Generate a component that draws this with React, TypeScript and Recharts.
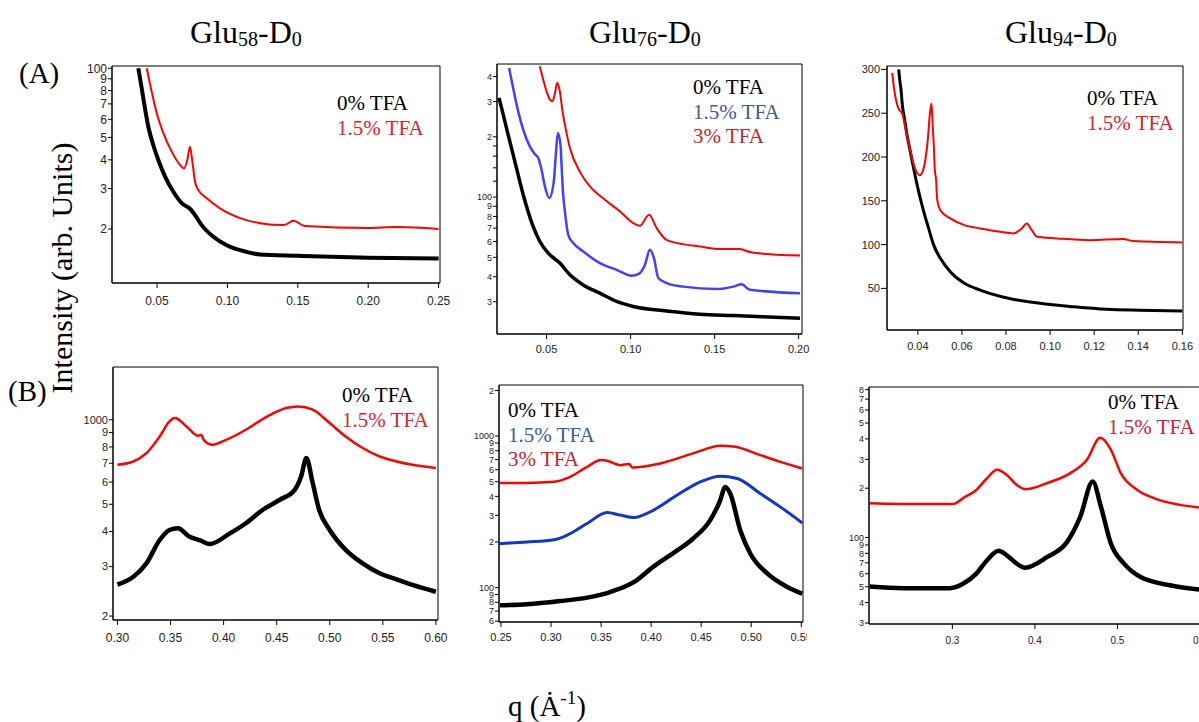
import React from "react";
import { LineChart, Line, XAxis, YAxis, ReferenceArea } from "recharts";

// (A) Glu58-D0
const A1_Q_0 = [0.0367, 0.0391, 0.0414, 0.0438, 0.0473, 0.0509, 0.0557, 0.0615, 0.0675, 0.0734, 0.077, 0.0817, 0.09, 0.0995, 0.1137, 0.1231, 0.15, 0.2, 0.25];
const A1_I_0 = [100, 81.9, 67, 55.7, 46.4, 39.9, 33.8, 29.1, 25.9, 24.5, 23.0, 20.8, 18.5, 17, 15.9, 15.5, 15.3, 15.0, 14.9];
const A1_Q_15 = [0.0427, 0.0462, 0.0498, 0.0545, 0.0604, 0.0663, 0.0692, 0.0715, 0.0734, 0.0751, 0.077, 0.0793, 0.0853, 0.0947, 0.109, 0.1231, 0.14, 0.147, 0.155, 0.2, 0.22, 0.25];
const A1_I_15 = [100, 79.1, 63.7, 52.2, 43.4, 38, 36.7, 39.9, 45.6, 39.3, 32.1, 29.6, 27.2, 24.6, 22.3, 21.2, 20.8, 21.7, 20.6, 20.2, 20.4, 20.0];

// (A) Glu76-D0
const A2_Q_0 = [0.0217, 0.0242, 0.0271, 0.0301, 0.0331, 0.0361, 0.039, 0.042, 0.046, 0.051, 0.0579, 0.0639, 0.0718, 0.0817, 0.0917, 0.1016, 0.1214, 0.1413, 0.1611, 0.2008];
const A2_I_0 = [313, 258, 205, 163, 129, 102.7, 84.7, 71.3, 60, 52.5, 46.8, 40.9, 36.4, 33.1, 30.1, 28.4, 27, 26, 25.6, 24.8];
const A2_Q_15 = [0.0277, 0.0301, 0.0331, 0.0361, 0.04, 0.043, 0.045, 0.047, 0.049, 0.0516, 0.0543, 0.0555, 0.0567, 0.0583, 0.0591, 0.0599, 0.0609, 0.0629, 0.0659, 0.0718, 0.0817, 0.0917, 0.1006, 0.1046, 0.1085, 0.1115, 0.1139, 0.1165, 0.1214, 0.1313, 0.1512, 0.1611, 0.166, 0.171, 0.2008];
const A2_I_15 = [441, 351, 268, 217, 179, 164, 157, 137, 113, 98.9, 119.7, 163, 209, 182, 134, 102.7, 84.8, 64.8, 58.9, 53.5, 46.8, 43.3, 40.5, 41.2, 45.8, 54.5, 49.5, 39.4, 37.2, 35.7, 34.7, 35.7, 36.7, 34.4, 33.1];
const A2_Q_3 = [0.046, 0.048, 0.05, 0.052, 0.0536, 0.055, 0.0563, 0.0579, 0.0595, 0.0609, 0.0639, 0.0698, 0.0758, 0.0847, 0.0936, 0.1016, 0.1055, 0.111, 0.1155, 0.1214, 0.1313, 0.1413, 0.1512, 0.165, 0.171, 0.181, 0.2008];
const A2_I_3 = [450, 386, 337, 307, 301, 331, 372, 337, 268, 230, 176, 134, 113, 97, 84.8, 74.1, 71.8, 81.6, 70, 61.1, 58.2, 56.6, 55.1, 55, 53.1, 51.9, 51];

// (A) Glu94-D0
const A3_Q_0 = [0.0313, 0.0318, 0.0324, 0.0329, 0.0339, 0.0351, 0.0366, 0.0381, 0.0404, 0.0427, 0.0449, 0.0472, 0.0502, 0.0547, 0.0611, 0.0683, 0.0811, 0.0954, 0.1105, 0.1256, 0.1406, 0.16];
const A3_I_0 = [300, 287.6, 276, 261, 243.9, 224.9, 205.8, 186.9, 160.2, 137.4, 118.5, 99.4, 84.3, 69, 55.8, 48.1, 38.7, 33, 29.1, 26.1, 25, 24.2];
const A3_Q_15 = [0.0284, 0.0291, 0.0303, 0.0313, 0.0329, 0.0344, 0.0359, 0.0374, 0.0394, 0.0409, 0.0424, 0.0435, 0.0445, 0.0454, 0.0462, 0.0468, 0.0472, 0.0477, 0.0483, 0.0487, 0.0502, 0.0547, 0.0611, 0.0683, 0.0774, 0.0834, 0.0872, 0.0894, 0.0917, 0.094, 0.103, 0.1181, 0.1332, 0.1377, 0.16];
const A3_I_15 = [296, 280, 262.8, 255, 249.6, 232.5, 215.4, 198.3, 183, 179.2, 185, 198.3, 219.2, 247.7, 261, 232.5, 215.4, 185, 173.5, 152.7, 139.3, 129.9, 122.2, 118.5, 114.6, 112.8, 118.5, 124.2, 116.5, 108.9, 107.1, 105.1, 106.3, 104, 102.5];

// (B) Glu58-D0
const B1_Q_0 = [0.3, 0.315, 0.3273, 0.3398, 0.349, 0.357, 0.368, 0.378, 0.387, 0.406, 0.421, 0.437, 0.453, 0.467, 0.473, 0.478, 0.484, 0.49, 0.5, 0.515, 0.531, 0.547, 0.563, 0.578, 0.6];
const B1_I_0 = [259, 276, 308, 373, 405, 411, 383, 372, 361, 394, 428, 478, 519, 563, 628, 730, 594, 478, 405, 344, 308, 284, 270, 258, 244];
const B1_Q_15 = [0.3, 0.315, 0.3273, 0.3398, 0.349, 0.354, 0.365, 0.376, 0.379, 0.381, 0.3898, 0.399, 0.421, 0.44, 0.459, 0.47, 0.484, 0.5, 0.515, 0.531, 0.547, 0.563, 0.578, 0.6];
const B1_I_15 = [691, 710, 760, 872, 986, 1014, 947, 877, 885, 850, 814, 837, 921, 1022, 1101, 1115, 1086, 973, 872, 793, 740, 710, 691, 673];

// (B) Glu76-D0
const B2_Q_0 = [0.249, 0.276, 0.309, 0.336, 0.359, 0.383, 0.402, 0.426, 0.442, 0.459, 0.469, 0.474, 0.479, 0.489, 0.499, 0.516, 0.536, 0.551];
const B2_I_0 = [76.4, 77.6, 81.5, 85.9, 93.5, 109, 137, 176, 211, 279, 377, 462, 418, 239, 168, 124, 101, 91.2];
const B2_Q_15 = [0.249, 0.276, 0.303, 0.316, 0.336, 0.356, 0.369, 0.383, 0.399, 0.426, 0.449, 0.469, 0.486, 0.509, 0.529, 0.551];
const B2_I_15 = [195, 200, 207, 222, 265, 313, 301, 290, 316, 408, 499, 544, 525, 418, 341, 267];
const B2_Q_3 = [0.249, 0.276, 0.303, 0.319, 0.336, 0.35, 0.356, 0.369, 0.378, 0.381, 0.384, 0.409, 0.442, 0.469, 0.482, 0.509, 0.529, 0.551];
const B2_I_3 = [491, 491, 499, 538, 627, 694, 687, 643, 655, 620, 621, 660, 769, 863, 855, 749, 676, 611];

// (B) Glu94-D0
const B3_Q_0 = [0.2, 0.24, 0.297, 0.313, 0.329, 0.342, 0.356, 0.366, 0.378, 0.388, 0.415, 0.439, 0.455, 0.47, 0.48, 0.492, 0.508, 0.528, 0.565, 0.6];
const B3_I_0 = [50.2, 49, 49, 52.1, 60.1, 72.6, 82.8, 77.8, 69.2, 65.4, 76, 94, 134, 220, 154, 91.9, 69.2, 57.3, 50.9, 48];
const B3_Q_15 = [0.2, 0.261, 0.301, 0.313, 0.329, 0.342, 0.354, 0.366, 0.378, 0.388, 0.415, 0.443, 0.463, 0.479, 0.492, 0.504, 0.524, 0.544, 0.565, 0.6];
const B3_I_15 = [162, 160, 160, 174, 195, 230, 259, 241, 209, 197, 215, 247, 298, 406, 344, 247, 195, 174, 162, 152];

// ticks
const A1_XT = [0.05, 0.1, 0.15, 0.2, 0.25];
const A1_YT = [20, 30, 40, 50, 60, 70, 80, 90, 100];
const A2_XT = [0.05, 0.1, 0.15, 0.2];
const A2_YT = [30, 40, 50, 60, 70, 80, 90, 100, 120, 140, 160, 180, 200, 300, 400];
const A3_XT = [0.04, 0.06, 0.08, 0.1, 0.12, 0.14, 0.16];
const A3_YT = [50, 100, 150, 200, 250, 300];
const B1_XT = [0.3, 0.35, 0.4, 0.45, 0.5, 0.55, 0.6];
const B1_YT = [200, 300, 400, 500, 600, 700, 800, 900, 1000];
const B2_XT = [0.25, 0.3, 0.35, 0.4, 0.45, 0.5, 0.55];
const B2_YT = [60, 70, 80, 90, 100, 200, 300, 400, 500, 600, 700, 800, 900, 1000, 2000];
const B3_XT = [0.3, 0.4, 0.5, 0.6];
const B3_YT = [30, 40, 50, 60, 70, 80, 90, 100, 200, 300, 400, 500, 600, 700, 800];
const MINOR = [120, 140, 160, 180];

const RED = "#ff0000";
const SERIF = "Liberation Serif, Times New Roman, serif";
const SANS = "Liberation Sans, Arial, sans-serif";

const zip = (q: number[], v: number[]) => q.map((x, i) => ({ q: x, v: v[i] }));

// IGOR-style log labels: full number at decades, leading digit elsewhere
const logLabel = (v: number) => {
  if (MINOR.includes(v)) return "";
  const e = Math.floor(Math.log10(v) + 1e-9);
  const m = Math.round(v / Math.pow(10, e));
  return m === 1 ? String(v) : String(m);
};

type Series = { q: number[]; v: number[]; color: string; width: number };

function Panel(props: {
  x: number; y: number; w: number; h: number;
  xDom: [number, number]; yDom: [number, number];
  xTicks: number[]; yTicks: number[]; log: boolean; xDigits: number;
  xFont: number; yFont: number; xGap: number; series: Series[]; clipW?: number;
}) {
  const { x, y, w, h, xDom, yDom, xTicks, yTicks, log, xDigits, xFont, yFont, xGap, series, clipW } = props;
  const padL = 60, padT = 6, padR = 22, padB = 40;
  return (
    <div style={{ position: "absolute", left: x - padL, top: y - padT, width: clipW ?? w + padL + padR, height: h + padT + padB, overflow: "hidden" }}>
      <LineChart width={w + padL + padR} height={h + padT + padB} margin={{ top: padT, right: padR, bottom: 0, left: 0 }}>
        <XAxis dataKey="q" type="number" domain={xDom} allowDataOverflow ticks={xTicks} interval={0}
          tickFormatter={(v: number) => v.toFixed(xDigits)} height={padB} tickSize={5} tickMargin={xGap}
          tick={{ fontSize: xFont, fill: "#222", fontFamily: SANS }} axisLine={{ stroke: "#000" }} tickLine={{ stroke: "#000" }} />
        <YAxis type="number" scale={log ? "log" : "linear"} domain={yDom} allowDataOverflow ticks={yTicks} interval={0}
          tickFormatter={log ? logLabel : (v: number) => String(v)} width={padL} tickSize={log ? 4 : 6} tickMargin={1}
          tick={{ fontSize: yFont, fill: "#222", fontFamily: SANS }} axisLine={{ stroke: "#000" }} tickLine={{ stroke: "#000" }} />
        <ReferenceArea x1={xDom[0]} x2={xDom[1]} y1={yDom[0]} y2={yDom[1]} fill="none" stroke="#000" strokeWidth={1} ifOverflow="visible" />
        {series.map((s, i) => (
          <Line key={i} data={zip(s.q, s.v)} dataKey="v" type="monotone" stroke={s.color} strokeWidth={s.width}
            dot={false} isAnimationActive={false} />
        ))}
      </LineChart>
    </div>
  );
}

function Legend({ x, y, items }: { x: number; y: number; items: [string, string][] }) {
  return (
    <>
      {items.map(([t, c], i) => (
        <text key={i} x={x} y={y + i * 24.5} fill={c} fontSize={21} fontFamily={SERIF}>{t}</text>
      ))}
    </>
  );
}

function Head({ x, a }: { x: number; a: string }) {
  return (
    <text x={x} y={43} fontSize={32} fontFamily={SERIF} fill="#000">
      Glu<tspan fontSize={20} dy={3}>{a}</tspan><tspan dy={-3}>-D</tspan><tspan fontSize={20} dy={3}>0</tspan>
    </text>
  );
}

export default function App() {
  const blk = "#000";
  return (
    <div style={{ position: "fixed", left: 0, top: 0, width: 1199, height: 722, overflow: "hidden", background: "#fff" }}>
      <Panel x={112} y={66} w={328} h={217} xDom={[0.018, 0.251]} yDom={[11.65, 102.3]} xTicks={A1_XT} yTicks={A1_YT}
        log xDigits={2} xFont={12} yFont={12} xGap={8}
        series={[{ q: A1_Q_0, v: A1_I_0, color: blk, width: 4 }, { q: A1_Q_15, v: A1_I_15, color: RED, width: 2 }]} />
      <Panel x={497} y={64} w={305} h={270} xDom={[0.0205, 0.202]} yDom={[20.7, 462]} xTicks={A2_XT} yTicks={A2_YT}
        log xDigits={2} xFont={11} yFont={9} xGap={6}
        series={[{ q: A2_Q_0, v: A2_I_0, color: blk, width: 3.5 }, { q: A2_Q_15, v: A2_I_15, color: "#4141ff", width: 2.5 }, { q: A2_Q_3, v: A2_I_3, color: RED, width: 2 }]} />
      <Panel x={887} y={66} w={296} h={264} xDom={[0.026, 0.1603]} yDom={[2.5, 303.9]} xTicks={A3_XT} yTicks={A3_YT}
        log={false} xDigits={2} xFont={11} yFont={11} xGap={7}
        series={[{ q: A3_Q_0, v: A3_I_0, color: blk, width: 3 }, { q: A3_Q_15, v: A3_I_15, color: RED, width: 2 }]} />
      <Panel x={113} y={367} w={325} h={253} xDom={[0.2958, 0.602]} yDom={[193.6, 1541]} xTicks={B1_XT} yTicks={B1_YT}
        log xDigits={2} xFont={12} yFont={11} xGap={8}
        series={[{ q: B1_Q_0, v: B1_I_0, color: blk, width: 4.5 }, { q: B1_Q_15, v: B1_I_15, color: RED, width: 2.5 }]} />
      <Panel x={499} y={385} w={304} h={237} xDom={[0.248, 0.5517]} yDom={[59.3, 2173]} xTicks={B2_XT} yTicks={B2_YT}
        log xDigits={2} xFont={11} yFont={9} xGap={6} clipW={368}
        series={[{ q: B2_Q_0, v: B2_I_0, color: blk, width: 4.5 }, { q: B2_Q_15, v: B2_I_15, color: "#1235cc", width: 3 }, { q: B2_Q_3, v: B2_I_3, color: RED, width: 2.5 }]} />
      <Panel x={869} y={387} w={331} h={237} xDom={[0.199, 0.6]} yDom={[29.6, 830]} xTicks={B3_XT} yTicks={B3_YT}
        log xDigits={1} xFont={10} yFont={9} xGap={8}
        series={[{ q: B3_Q_0, v: B3_I_0, color: blk, width: 4.5 }, { q: B3_Q_15, v: B3_I_15, color: RED, width: 2.5 }]} />

      <svg width={1199} height={722} style={{ position: "absolute", left: 0, top: 0, pointerEvents: "none" }}>
        <Head x={190} a="58" />
        <Head x={589} a="76" />
        <Head x={1005} a="94" />
        <text x={19} y={83} fontSize={29} fontFamily={SERIF}>(A)</text>
        <text x={8} y={401} fontSize={29} fontFamily={SERIF}>(B)</text>
        <text x={72} y={268} fontSize={30} fontFamily={SERIF} textAnchor="middle" transform="rotate(-90 72 268)">Intensity (arb. Units)</text>
        <text x={508} y={716} fontSize={29} fontFamily={SERIF}>
          q (Ȧ<tspan fontSize={19} dy={-12}>-1</tspan><tspan dy={12}>)</tspan>
        </text>
        <Legend x={337} y={110} items={[["0% TFA", "#000"], ["1.5% TFA", "#e0232b"]]} />
        <Legend x={693} y={94} items={[["0% TFA", "#000"], ["1.5% TFA", "#3b5a98"], ["3% TFA", "#c4262d"]]} />
        <Legend x={1087} y={105} items={[["0% TFA", "#000"], ["1.5% TFA", "#d5262c"]]} />
        <Legend x={342} y={402} items={[["0% TFA", "#000"], ["1.5% TFA", "#d5262c"]]} />
        <Legend x={508} y={417} items={[["0% TFA", "#000"], ["1.5% TFA", "#3b5a98"], ["3% TFA", "#c4262d"]]} />
        <Legend x={1108} y={409} items={[["0% TFA", "#000"], ["1.5% TFA", "#c4262d"]]} />
      </svg>
    </div>
  );
}
